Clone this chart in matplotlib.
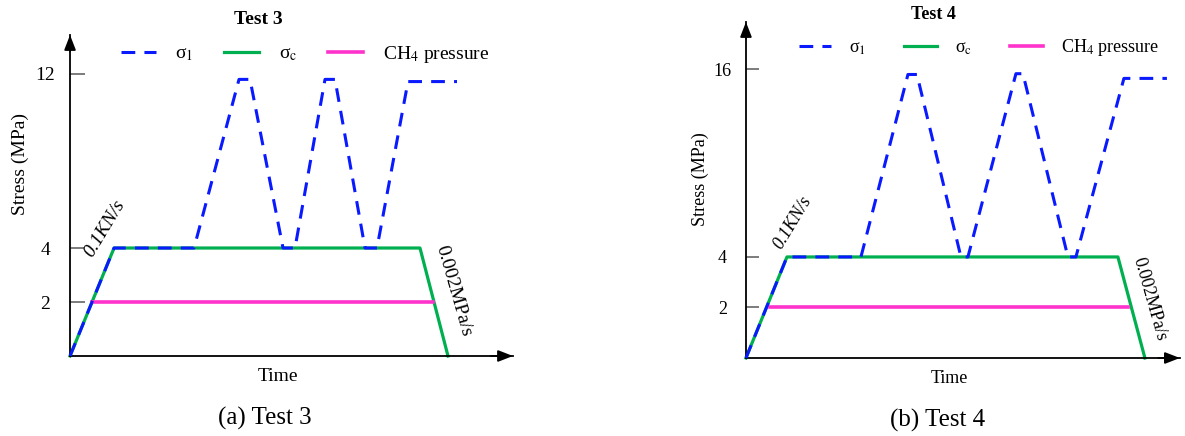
import matplotlib
matplotlib.use("Agg")
import matplotlib.pyplot as plt
import numpy as np

plt.rcParams['font.family'] = ['Liberation Serif', 'DejaVu Serif']
plt.rcParams['mathtext.fontset'] = 'stix'

# ---- Test 3 loading path (time in arbitrary units, stress in MPa) ----
t3_sigma1_t = [0, 44, 124, 169, 180, 213, 225, 255, 265, 295, 307, 338, 387]
t3_sigma1 = [0, 4, 4, 11.75, 11.75, 4, 4, 11.75, 11.75, 4, 4, 11.65, 11.65]
t3_sigmac_t = [0, 44, 350, 378]
t3_sigmac = [0, 4, 4, 0]
t3_ch4_t = [22, 363]
t3_ch4 = [2, 2]
t3_yticks = [2, 4, 12]

# ---- Test 4 loading path ----
t4_sigma1_t = [0, 41, 115, 162, 171, 215, 222, 270, 277, 322, 330, 378, 421]
t4_sigma1 = [0, 4, 4, 15.65, 15.65, 4, 4, 15.7, 15.7, 4, 4, 15.4, 15.4]
t4_sigmac_t = [0, 41, 372, 399]
t4_sigmac = [0, 4, 4, 0]
t4_ch4_t = [24, 382]
t4_ch4 = [2, 2]
t4_yticks = [2, 4, 16]

BLUE = '#0a1aff'
GREEN = '#00b050'
PINK = '#ff33cc'


def broken_scale(k):
    # schematic axis: linear up to 4 MPa, compressed above it
    def fwd(y):
        y = np.asarray(y, dtype=float)
        return np.where(y <= 4, y, 4 + (y - 4) * k)

    def inv(t):
        t = np.asarray(t, dtype=float)
        return np.where(t <= 4, t, 4 + (t - 4) / k)
    return fwd, inv


def draw_panel(ax, s1_t, s1, sc_t, sc, ch_t, ch, yticks, k, ytop, xmax,
               fs, title, title_pos, leg_pos, colspace, rate1_pos, rate2_pos,
               ylab_pos, time_pos, tick_len, tick_pad):
    ax.set_yscale('function', functions=broken_scale(k))
    ax.plot(sc_t, sc, color=GREEN, lw=2.3, clip_on=False, label='σ$_{\\rm c}$', zorder=2)
    ax.plot(ch_t, ch, color=PINK, lw=2.6, label='CH$_4$ pressure', zorder=3)
    ax.plot(s1_t, s1, color=BLUE, lw=2.2, ls=(0, (4.5, 3)), clip_on=False,
            label='σ$_1$', zorder=4)
    ax.set_xlim(0, xmax)
    ax.set_ylim(0, ytop)

    for side in ['top', 'right']:
        ax.spines[side].set_visible(False)
    ax.spines['left'].set_linewidth(1.3)
    ax.spines['bottom'].set_linewidth(1.3)
    ax.set_xticks([])
    ax.set_yticks(yticks)
    ax.set_yticklabels([str(v) for v in yticks])
    ax.yaxis.set_minor_locator(matplotlib.ticker.NullLocator())
    ax.tick_params(axis='y', direction='in', length=tick_len, width=1.2,
                   color='#666666', pad=tick_pad, labelsize=fs)
    for lab in ax.get_yticklabels():
        lab.set_horizontalalignment('center')

    # arrow heads on the axes
    ax.annotate('', xy=(1.0, 0), xytext=(0.95, 0), xycoords='axes fraction',
                arrowprops=dict(arrowstyle='-|>,head_length=0.9,head_width=0.35',
                                color='black', lw=1.3, shrinkA=0, shrinkB=0))
    ax.annotate('', xy=(0, 1.0), xytext=(0, 0.95), xycoords='axes fraction',
                arrowprops=dict(arrowstyle='-|>,head_length=0.9,head_width=0.35',
                                color='black', lw=1.3, shrinkA=0, shrinkB=0))

    ax.text(title_pos[0], title_pos[1], title, transform=ax.transAxes,
            ha='center', va='center', fontsize=fs, fontweight='bold')
    ax.text(ylab_pos[0], ylab_pos[1], 'Stress (MPa)', transform=ax.transAxes,
            rotation=90, ha='center', va='center', fontsize=fs)
    ax.text(time_pos[0], time_pos[1], 'Time', transform=ax.transAxes,
            ha='center', va='center', fontsize=fs)
    ax.text(rate1_pos[0], rate1_pos[1], '0.1KN/s', transform=ax.transAxes,
            rotation=59, ha='center', va='center', fontsize=fs, style='italic')
    ax.text(rate2_pos[0], rate2_pos[1], '0.002MPa/s', transform=ax.transAxes,
            rotation=-74, ha='center', va='center', fontsize=fs)

    handles, labels = ax.get_legend_handles_labels()
    order = [2, 0, 1]
    ax.legend([handles[i] for i in order], [labels[i] for i in order],
              loc='center', bbox_to_anchor=leg_pos, ncol=3, frameon=False,
              fontsize=fs, handlelength=1.8, handletextpad=1.0,
              columnspacing=colspace)


fig = plt.figure(figsize=(11.85, 4.36), dpi=100)

ax1 = fig.add_axes([0.0591, 0.1835, 0.3738, 0.7362])
draw_panel(ax1, t3_sigma1_t, t3_sigma1, t3_sigmac_t, t3_sigmac, t3_ch4_t, t3_ch4,
           t3_yticks, k=0.806, ytop=13.79, xmax=443, fs=14,
           title='Test 3', title_pos=(0.424, 1.048), leg_pos=(0.53, 0.94),
           colspace=1.6,
           rate1_pos=(0.079, 0.396), rate2_pos=(0.865, 0.202),
           ylab_pos=(-0.113, 0.598), time_pos=(0.47, -0.065),
           tick_len=11, tick_pad=18)

ax2 = fig.add_axes([0.6295, 0.1789, 0.3662, 0.7706])
draw_panel(ax2, t4_sigma1_t, t4_sigma1, t4_sigmac_t, t4_sigmac, t4_ch4_t, t4_ch4,
           t4_yticks, k=0.62, ytop=19.0, xmax=434, fs=13,
           title='Test 4', title_pos=(0.433, 1.021), leg_pos=(0.537, 0.923),
           colspace=2.1,
           rate1_pos=(0.108, 0.402), rate2_pos=(0.931, 0.176),
           ylab_pos=(-0.106, 0.533), time_pos=(0.468, -0.0625),
           tick_len=9, tick_pad=17)

fig.text(265 / 1185, 1 - 418 / 436, '(a) Test 3', ha='center', va='center', fontsize=18)
fig.text(938 / 1185, 1 - 420 / 436, '(b) Test 4', ha='center', va='center', fontsize=18)

fig.savefig('out.png', dpi=100)
